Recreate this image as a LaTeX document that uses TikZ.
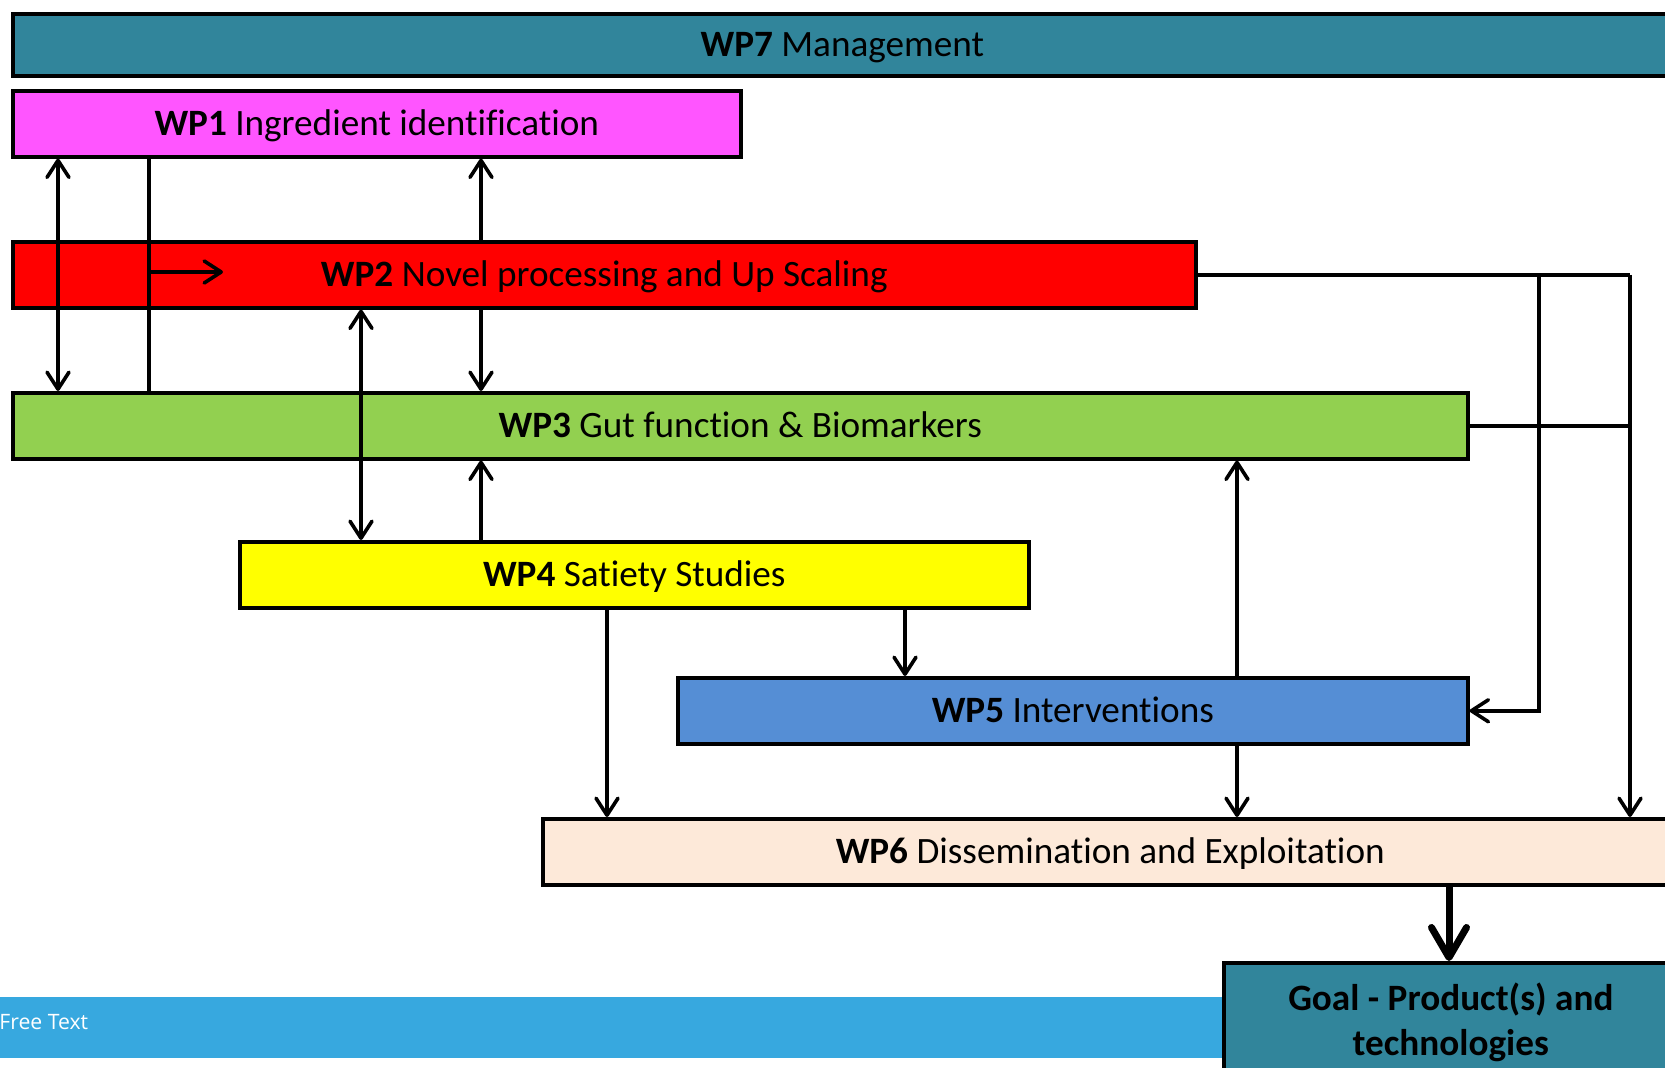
\documentclass[tikz,border=0pt]{standalone}
\usepackage{fontspec}
\setmainfont{Carlito}[Ligatures=NoCommon]
\newfontfamily\freefont{Open Sans}
\usetikzlibrary{arrows.meta}
\definecolor{cteal}{RGB}{49,133,155}
\definecolor{cmag}{RGB}{255,85,255}
\definecolor{cred}{RGB}{255,0,0}
\definecolor{cgreen}{RGB}{146,208,80}
\definecolor{cyel}{RGB}{255,255,0}
\definecolor{cblue}{RGB}{85,142,213}
\definecolor{cpeach}{RGB}{253,233,217}
\definecolor{cbar}{RGB}{55,168,223}
\tikzset{
  wpbox/.style={draw=black, line width=1.8pt, anchor=north west, inner sep=0pt,
    minimum height=33pt, font=\fontsize{18.6}{22}\selectfont, align=center,
    text height=14pt, text depth=2pt},
  goalbox/.style={draw=black, line width=1.8pt, anchor=north west, inner sep=0pt,
    font=\bfseries\fontsize{18.6}{22.5}\selectfont, align=center},
  conn/.style={line width=1.8pt, >={Straight Barb[length=8.5pt,width=11pt,round]}},
  thickconn/.style={line width=3.5pt, >={Straight Barb[length=15pt,width=17.5pt,round]}},
}
\begin{document}
\begin{tikzpicture}[x=0.5pt,y=-0.5pt]
\useasboundingbox (0,0) rectangle (1665,1068);
\clip (0,0) rectangle (1665,1068);
% free text bar
\fill[cbar] (-5,997) rectangle (1222,1058);
\node[anchor=base west, inner sep=0pt, text=white, font=\freefont\fontsize{10.6}{12}\selectfont] (free) at (-1,1029) {Free Text};
% boxes
\node[wpbox, fill=cteal, minimum width=829.5pt, minimum height=31pt] (wp7) at (11,12) {\textbf{WP7} Management};
\node[wpbox, fill=cmag, minimum width=364pt] (wp1) at (11,89) {\textbf{WP1} Ingredient identification};
\node[wpbox, fill=cred, minimum width=591.5pt] (wp2) at (11,240) {\textbf{WP2} Novel processing and Up Scaling};
\node[wpbox, fill=cgreen, minimum width=727.5pt] (wp3) at (11,391) {\textbf{WP3} Gut function \& Biomarkers};
\node[wpbox, fill=cyel, minimum width=394.5pt] (wp4) at (238,540) {\textbf{WP4} Satiety Studies};
\node[wpbox, fill=cblue, minimum width=395pt] (wp5) at (676,676) {\textbf{WP5} Interventions};
\node[wpbox, fill=cpeach, minimum width=567.5pt] (wp6) at (541,817) {\textbf{WP6} Dissemination and Exploitation};
\node[goalbox, fill=cteal, minimum width=227pt, minimum height=59.5pt] (goal) at (1222,961) {Goal - Product(s) and\\technologies};
% x positions
\coordinate (xa) at (58,0);
\coordinate (xb) at (149,0);
\coordinate (xc) at (361,0);
\coordinate (xd) at (481,0);
\coordinate (xe) at (607,0);
\coordinate (xf) at (905,0);
\coordinate (xg) at (1237,0);
\coordinate (xh) at (1539,0);
\coordinate (xi) at (1630,0);
\coordinate (xj) at (1449,0);
\coordinate (br) at (149,272);
\coordinate (brend) at (223,272);
% connectors
\draw[conn,<->] (wp1.south -| xa) -- (wp3.north -| xa);
\draw[conn] (wp1.south -| xb) -- (wp3.north -| xb);
\draw[conn,->] (br) -- (brend);
\draw[conn,->] (wp2.north -| xd) -- (wp1.south -| xd);
\draw[conn,->] (wp2.south -| xd) -- (wp3.north -| xd);
\draw[conn,->] (wp4.north -| xd) -- (wp3.south -| xd);
\draw[conn,<->] (wp2.south -| xc) -- (wp4.north -| xc);
\draw[conn,->] (wp4.south -| xe) -- (wp6.north -| xe);
\draw[conn,->] (wp4.south -| xf) -- (wp5.north -| xf);
\draw[conn,->] (wp5.north -| xg) -- (wp3.south -| xg);
\draw[conn,->] (wp5.south -| xg) -- (wp6.north -| xg);
\draw[conn] (wp2.east) -- (wp2.east -| xi);
\draw[conn,->] (wp2.east -| xh) |- (wp5.east);
\draw[conn,->] (wp2.east -| xi) -- (wp6.north -| xi);
\draw[conn] (wp3.east) -- (wp3.east -| xi);
\draw[thickconn,->] (wp6.south -| xj) -- (goal.north -| xj);
\end{tikzpicture}
\end{document}
